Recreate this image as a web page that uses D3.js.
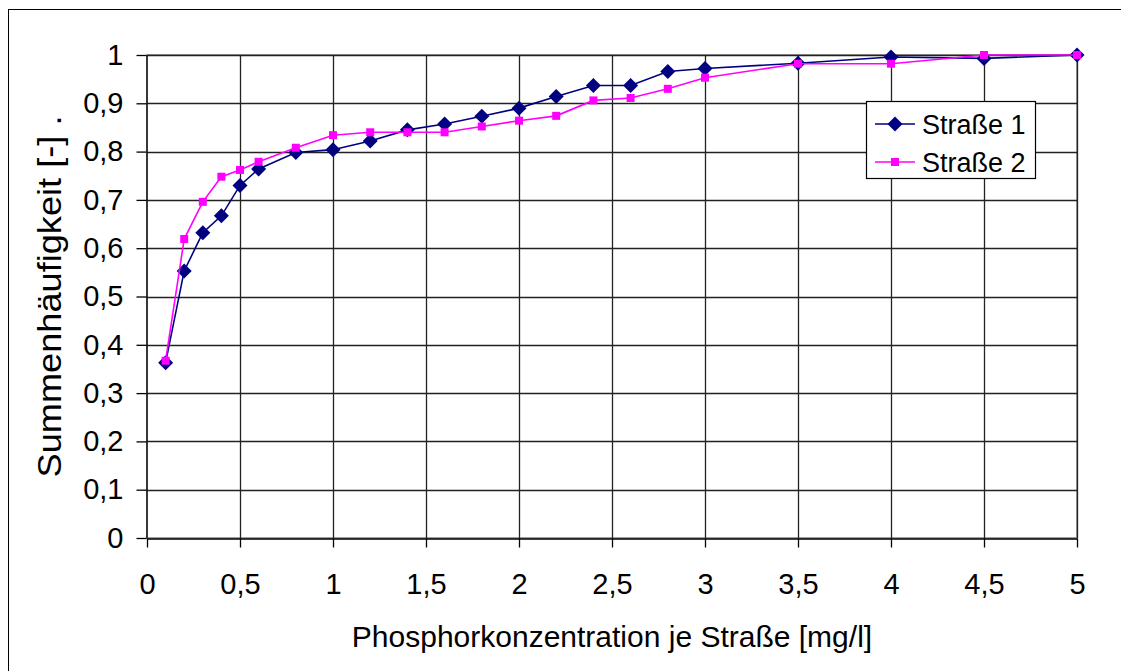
<!DOCTYPE html>
<html><head><meta charset="utf-8">
<script src="https://cdn.jsdelivr.net/npm/d3@7"></script>
<style>body{margin:0;background:#fff;} text{font-family:Arial,"Liberation Sans",sans-serif;}</style>
</head><body>
<svg id="c" width="1121" height="671"></svg>
<script>
const xValues = [0.1,0.2,0.3,0.4,0.5,0.6,0.8,1.0,1.2,1.4,1.6,1.8,2.0,2.2,2.4,2.6,2.8,3.0,3.5,4.0,4.5,5.0];
const strasse1 = [0.363,0.553,0.632,0.667,0.730,0.764,0.798,0.804,0.822,0.845,0.857,0.873,0.890,0.914,0.937,0.937,0.966,0.972,0.983,0.996,0.993,1.0];
const strasse2 = [0.367,0.619,0.696,0.748,0.762,0.779,0.808,0.834,0.840,0.840,0.840,0.852,0.864,0.874,0.906,0.911,0.930,0.953,0.982,0.982,1.0,1.0];
const seriesNames = ["Straße 1","Straße 2"];
const xTicks = [0,0.5,1,1.5,2,2.5,3,3.5,4,4.5,5];
const yTicks = [0,0.1,0.2,0.3,0.4,0.5,0.6,0.7,0.8,0.9,1];
const xTitle = "Phosphorkonzentration je Straße [mg/l]";
const yTitle = "Summenhäufigkeit [-] .";

const svg = d3.select("#c");
const L = 147, R = 1077, T = 55, B = 538;
const x = d3.scaleLinear().domain([0,5]).range([L,R]);
const y = d3.scaleLinear().domain([0,1]).range([B,T]);
const fmt = d => String(d).replace(".", ",");

// outer frame (right/bottom beyond view)
svg.append("rect").attr("x",8.5).attr("y",9.5).attr("width",1130).attr("height",700)
  .attr("fill","#fff").attr("stroke","#000").attr("stroke-width",1);

// plot area
svg.append("rect").attr("x",L).attr("y",T).attr("width",R-L).attr("height",B-T)
  .attr("fill","#fff").attr("stroke","#808080").attr("stroke-width",1.5);

// grid
const g = svg.append("g");
g.selectAll(".hg").data(yTicks.filter(d=>d>0)).join("line")
  .attr("x1",L).attr("x2",R).attr("y1",d=>Math.round(y(d))+0.5).attr("y2",d=>Math.round(y(d))+0.5)
  .attr("stroke","#222").attr("stroke-width",1.3);
g.selectAll(".vg").data(xTicks.filter(d=>d>0)).join("line")
  .attr("y1",T).attr("y2",B).attr("x1",d=>Math.round(x(d))+0.5).attr("x2",d=>Math.round(x(d))+0.5)
  .attr("stroke","#222").attr("stroke-width",1.3);

// axes
const xAxis = d3.axisBottom(x).tickValues(xTicks).tickFormat(fmt).tickSizeInner(9).tickSizeOuter(0).tickPadding(26);
const yAxis = d3.axisLeft(y).tickValues(yTicks).tickFormat(fmt).tickSizeInner(10).tickSizeOuter(0).tickPadding(13);
const gx = svg.append("g").attr("transform",`translate(0,${B+0.5})`).call(xAxis);
const gy = svg.append("g").attr("transform",`translate(${L-0.5},0)`).call(yAxis);
[gx,gy].forEach(a=>{
  a.selectAll("path,line").attr("stroke","#000").attr("stroke-width",1.3);
  a.selectAll("text").attr("font-size",29).attr("fill","#000").attr("font-family","Arial, 'Liberation Sans', sans-serif");
});
gx.selectAll("text").attr("dy","0.71em");

// titles
svg.append("text").attr("x",(L+R)/2).attr("y",647).attr("text-anchor","middle")
  .attr("font-size",30).attr("fill","#000").text(xTitle);
svg.append("text").attr("transform",`translate(61,${(T+B)/2}) rotate(-90)`).attr("text-anchor","middle")
  .attr("font-size",33).attr("textLength",362).attr("lengthAdjust","spacingAndGlyphs")
  .attr("fill","#000").text(yTitle);

// series
const data1 = xValues.map((v,i)=>[v,strasse1[i]]);
const data2 = xValues.map((v,i)=>[v,strasse2[i]]);
const line = d3.line().x(d=>x(d[0])).y(d=>y(d[1]));
function diamondPath(s){ return `M0,${-s}L${s},0L0,${s}L${-s},0Z`; }

svg.append("path").datum(data1).attr("d",line).attr("fill","none").attr("stroke","#000080").attr("stroke-width",1.6);
svg.append("g").selectAll("path").data(data1).join("path")
  .attr("transform",d=>`translate(${x(d[0])},${y(d[1])})`).attr("d",diamondPath(7.5)).attr("fill","#000080");

svg.append("path").datum(data2).attr("d",line).attr("fill","none").attr("stroke","#FF00FF").attr("stroke-width",1.6);
svg.append("g").selectAll("rect").data(data2).join("rect")
  .attr("x",d=>x(d[0])-4).attr("y",d=>y(d[1])-4).attr("width",8).attr("height",8).attr("fill","#FF00FF");

// legend
const lg = svg.append("g");
lg.append("rect").attr("x",866.5).attr("y",101.5).attr("width",169).attr("height",77)
  .attr("fill","#fff").attr("stroke","#000").attr("stroke-width",1.2);
const rows = [{name:seriesNames[0],c:"#000080",yy:124,m:"d"},{name:seriesNames[1],c:"#FF00FF",yy:162,m:"s"}];
rows.forEach(r=>{
  lg.append("line").attr("x1",875).attr("x2",915).attr("y1",r.yy).attr("y2",r.yy).attr("stroke",r.c).attr("stroke-width",1.6);
  if(r.m==="d") lg.append("path").attr("transform",`translate(895,${r.yy})`).attr("d",diamondPath(7.5)).attr("fill",r.c);
  else lg.append("rect").attr("x",891).attr("y",r.yy-4).attr("width",8).attr("height",8).attr("fill",r.c);
  lg.append("text").attr("x",922).attr("y",r.yy).attr("dy","0.36em").attr("font-size",27).attr("fill","#000").text(r.name);
});
</script>
</body></html>
